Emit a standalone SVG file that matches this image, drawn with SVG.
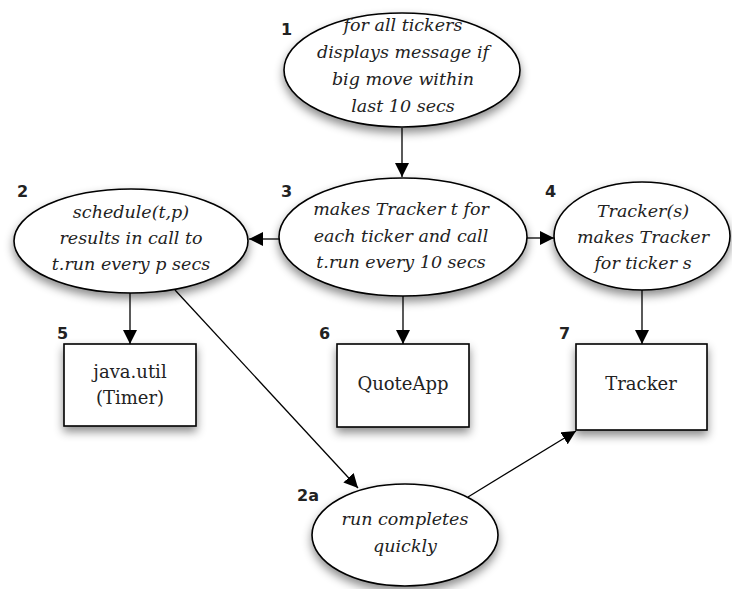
<svg xmlns="http://www.w3.org/2000/svg" width="732" height="589" viewBox="0 0 732 589">
<style>
.shape{fill:#fff;stroke:#000;stroke-width:1.6;filter:url(#sh)}
.it{font-family:"DejaVu Serif","Liberation Serif",serif;font-style:italic;font-size:17.5px;fill:#222;text-anchor:middle}
.rg{font-family:"DejaVu Serif","Liberation Serif",serif;font-size:18px;fill:#222;text-anchor:middle}
.num{font-family:"DejaVu Sans","Liberation Sans",sans-serif;font-weight:bold;font-size:16px;fill:#222}
.con{stroke:#000;stroke-width:1.3;fill:none;marker-end:url(#ah)}
</style>
<defs>
<filter id="sh" x="-20%" y="-20%" width="140%" height="150%">
<feDropShadow dx="0" dy="5" stdDeviation="5" flood-color="#000" flood-opacity="0.45"/>
</filter>
<marker id="ah" viewBox="0 0 10 10" refX="10" refY="5" markerWidth="14" markerHeight="14" markerUnits="userSpaceOnUse" orient="auto">
<path d="M0,0 L10,5 L0,10 z" fill="#000"/>
</marker>
</defs>
<g id="connectors">
<line class="con" x1="402" y1="128" x2="402" y2="177"/>
<line class="con" x1="280" y1="239" x2="249" y2="239"/>
<line class="con" x1="526" y1="238" x2="554" y2="238"/>
<line class="con" x1="130" y1="293" x2="130" y2="344"/>
<line class="con" x1="403" y1="296" x2="403" y2="344"/>
<line class="con" x1="642" y1="290" x2="642" y2="344"/>
<line class="con" x1="175" y1="290" x2="358" y2="488"/>
<line class="con" x1="468" y1="497" x2="576" y2="431"/>
</g>
<g id="n1">
<ellipse class="shape" cx="402" cy="70" rx="118" ry="57"/>
<text class="it" x="403" y="31">for all tickers</text>
<text class="it" x="403" y="58">displays message if</text>
<text class="it" x="403" y="85">big move within</text>
<text class="it" x="403" y="112">last 10 secs</text>
<text class="num" x="281" y="35">1</text>
</g>
<g id="n2">
<ellipse class="shape" cx="131" cy="241" rx="117" ry="52"/>
<text class="it" x="131" y="218">schedule(t,p)</text>
<text class="it" x="131" y="244">results in call to</text>
<text class="it" x="131" y="270">t.run every p secs</text>
<text class="num" x="17" y="197">2</text>
</g>
<g id="n3">
<ellipse class="shape" cx="403" cy="237" rx="124" ry="59"/>
<text class="it" x="401" y="215">makes Tracker t for</text>
<text class="it" x="401" y="242">each ticker and call</text>
<text class="it" x="401" y="268">t.run every 10 secs</text>
<text class="num" x="281" y="197">3</text>
</g>
<g id="n4">
<ellipse class="shape" cx="642" cy="236" rx="88" ry="54"/>
<text class="it" x="643" y="217">Tracker(s)</text>
<text class="it" x="643" y="243">makes Tracker</text>
<text class="it" x="643" y="269">for ticker s</text>
<text class="num" x="545" y="197">4</text>
</g>
<g id="n5">
<rect class="shape" x="64" y="344" width="132" height="82"/>
<text class="rg" x="130" y="378">java.util</text>
<text class="rg" x="130" y="404">(Timer)</text>
<text class="num" x="57" y="339">5</text>
</g>
<g id="n6">
<rect class="shape" x="337" y="344" width="132" height="83"/>
<text class="rg" x="403" y="390">QuoteApp</text>
<text class="num" x="319" y="339">6</text>
</g>
<g id="n7">
<rect class="shape" x="576" y="344" width="131" height="86"/>
<text class="rg" x="641" y="390">Tracker</text>
<text class="num" x="559" y="339">7</text>
</g>
<g id="n2a">
<ellipse class="shape" cx="405" cy="535" rx="93" ry="51"/>
<text class="it" x="405" y="525">run completes</text>
<text class="it" x="405" y="552">quickly</text>
<text class="num" x="297" y="501">2a</text>
</g>
</svg>
